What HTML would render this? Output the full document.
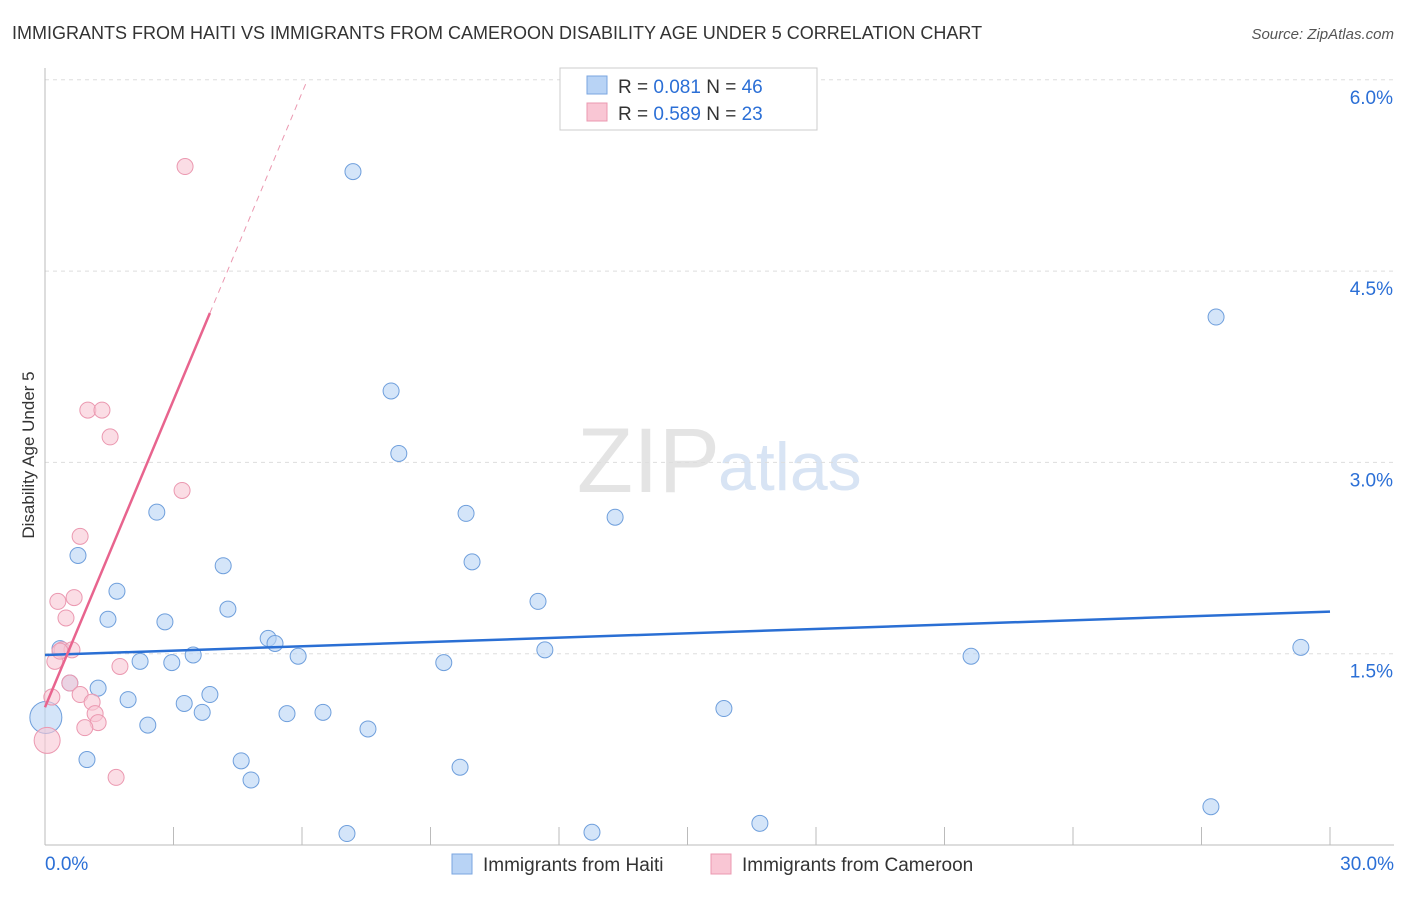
<!DOCTYPE html>
<html><head><meta charset="utf-8"><style>
body{margin:0;background:#fff;font-family:"Liberation Sans",sans-serif}
svg text{font-family:"Liberation Sans",sans-serif}
</style></head><body>
<svg width="1406" height="892" id="c">
<text x="12" y="39" font-size="18" fill="#333">IMMIGRANTS FROM HAITI VS IMMIGRANTS FROM CAMEROON DISABILITY AGE UNDER 5 CORRELATION CHART</text>
<text x="1394" y="39" font-size="15" fill="#555" text-anchor="end" font-style="italic">Source: ZipAtlas.com</text>
<text x="720" y="492" font-size="92" fill="#e4e4e4" text-anchor="end" font-family="Liberation Serif">ZIP</text>
<text x="718" y="490" font-size="68" fill="#d8e4f4">atlas</text>
<text transform="translate(34,455) rotate(-90)" font-size="17" fill="#333" text-anchor="middle">Disability Age Under 5</text>
<g id="grid"></g><g id="marks"></g>
<g>
<rect x="560" y="68" width="257" height="62" fill="#fff" stroke="#ccc"/>
<rect x="587" y="76" width="20" height="18" fill="#b8d3f5" stroke="#7aa6e0"/>
<rect x="587" y="103" width="20" height="18" fill="#f9c6d4" stroke="#eb98b0"/>
<text x="618" y="93" font-size="19" fill="#333">R = <tspan fill="#2b6fd6">0.081</tspan>   N = <tspan fill="#2b6fd6">46</tspan></text>
<text x="618" y="120" font-size="19" fill="#333">R = <tspan fill="#2b6fd6">0.589</tspan>   N = <tspan fill="#2b6fd6">23</tspan></text>
</g>
<g>
<rect x="452" y="854" width="20" height="20" fill="#b8d3f5" stroke="#7aa6e0"/>
<text x="483" y="871" font-size="19" fill="#333">Immigrants from Haiti</text>
<rect x="711" y="854" width="20" height="20" fill="#f9c6d4" stroke="#eb98b0"/>
<text x="742" y="871" font-size="19" fill="#333">Immigrants from Cameroon</text>
</g>
</svg>
<script>
const haitiX=[7.19,27.34,8.08,8.26,2.61,9.83,13.31,0.77,9.97,4.16,1.68,11.51,4.27,1.47,2.80,5.21,5.37,0.35,11.67,29.32,3.46,5.91,21.62,2.22,2.96,9.31,0.58,1.24,3.85,1.94,3.25,15.85,3.67,5.65,6.49,2.40,0.02,7.54,0.98,4.58,9.69,4.81,27.22,16.69,7.05,12.77];
const haitiY=[5.28,4.14,3.56,3.07,2.61,2.60,2.57,2.27,2.22,2.19,1.99,1.91,1.85,1.77,1.75,1.62,1.58,1.54,1.53,1.55,1.49,1.48,1.48,1.44,1.43,1.43,1.27,1.23,1.18,1.14,1.11,1.07,1.04,1.03,1.04,0.94,1.00,0.91,0.67,0.66,0.61,0.51,0.30,0.17,0.09,0.10];
const camX=[3.27,1.00,1.33,1.52,3.20,0.82,0.30,0.68,0.49,0.40,0.63,0.23,1.75,0.58,0.82,0.16,1.10,1.17,1.24,0.93,0.05,1.66,0.35];
const camY=[5.32,3.41,3.41,3.20,2.78,2.42,1.91,1.94,1.78,1.53,1.53,1.44,1.40,1.27,1.18,1.16,1.12,1.03,0.96,0.92,0.82,0.53,1.52];
const yTicks=[1.5,3.0,4.5,6.0];
const xTickLabels=["0.0%","30.0%"];
const haitiLine=[1.49,1.83];
const camLine=[1.08,0.803];
const X=v=>45+v/30*1285, Y=v=>845-v/1.5*191.3;
const NS="http://www.w3.org/2000/svg";
const grid=document.getElementById('grid'),marks=document.getElementById('marks');
function mk(tag,attrs,parent){const e=document.createElementNS(NS,tag);for(const k in attrs)e.setAttribute(k,attrs[k]);parent.appendChild(e);return e;}
yTicks.forEach(t=>{
 const l=mk('line',{x1:45,x2:1394,y1:Y(t),y2:Y(t),stroke:'#ddd','stroke-dasharray':'4,4'},grid);
 
 
 const tx=mk('text',{x:1393,y:Y(t)+24,'font-size':19,fill:'#2b6fd6','text-anchor':'end'},grid);
 tx.textContent=t.toFixed(1)+'%';
 
 
});
const ax=mk('line',{x1:45,x2:1394,y1:845,y2:845,stroke:'#bbb'},grid);


const ay=mk('line',{x1:45,x2:45,y1:68,y2:845,stroke:'#bbb'},grid);


for(let i=0;i<=10;i++){
 const t=mk('line',{x1:X(i*3),x2:X(i*3),y1:827,y2:845,stroke:'#bbb'},grid);
 
 
}
xTickLabels.forEach((s,i)=>{
 const t=mk('text',{x:i?1394:45,y:870,'font-size':19,fill:'#2b6fd6','text-anchor':i?'end':'start'},grid);
 t.textContent=s;
 
 
});
haitiX.forEach((x,i)=>{
 const c=mk('circle',{cx:X(x),cy:Y(haitiY[i]),r:(x<0.1?16:8),fill:'#b8d3f5','fill-opacity':0.6,stroke:'#6f9fdc','stroke-width':1},marks);
 
 
});
camX.forEach((x,i)=>{
 const c=mk('circle',{cx:X(x),cy:Y(camY[i]),r:(x<0.1?13:8),fill:'#f9c6d4','fill-opacity':0.6,stroke:'#eb98b0','stroke-width':1},marks);
 
 
});
const hl=mk('line',{x1:X(0),y1:Y(haitiLine[0]),x2:X(30),y2:Y(haitiLine[1]),stroke:'#2a6fd4','stroke-width':2.5},marks);


const cl=mk('line',{x1:X(0),y1:Y(camLine[0]),x2:X(3.85),y2:Y(camLine[0]+camLine[1]*3.85),stroke:'#e8648e','stroke-width':2.5},marks);


const xe=(6.0-camLine[0])/camLine[1];
const cd=mk('line',{x1:X(3.85),y1:Y(camLine[0]+camLine[1]*3.85),x2:X(xe),y2:Y(6.0),stroke:'#eb98b0','stroke-width':1,'stroke-dasharray':'6,5'},marks);


</script>
</body></html>
